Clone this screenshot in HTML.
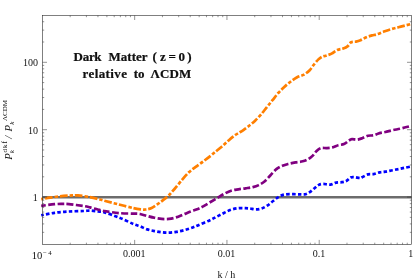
<!DOCTYPE html>
<html><head><meta charset="utf-8"><title>plot</title>
<style>
html,body{margin:0;padding:0;background:#fff;}
svg{display:block;will-change:transform;opacity:0.999}
text{font-family:"Liberation Serif",serif;fill:#111;}
.tl{font-size:10px}
.b{font-weight:bold;font-size:13px;letter-spacing:0.05px;fill:#000;stroke:#000;stroke-width:0.2px}
</style></head><body>
<svg width="415" height="279" viewBox="0 0 415 279">
<rect width="415" height="279" fill="#fff"/>
<g fill="none" stroke-linecap="butt" stroke-linejoin="round">
<path d="M42.5 197.2 L411.5 197.2" stroke="#6c6c6c" stroke-width="2.4"/>
<path d="M41.20 215.30 C43.42 214.88 49.88 213.43 54.50 212.80 C59.12 212.17 64.08 211.80 68.90 211.50 C73.72 211.20 79.88 211.15 83.40 211.00 C86.92 210.85 87.60 210.52 90.00 210.60 C92.40 210.68 95.38 211.20 97.80 211.50 C100.22 211.80 100.98 211.40 104.50 212.40 C108.02 213.40 114.08 215.57 118.90 217.50 C123.72 219.43 129.88 222.53 133.40 224.00 C136.92 225.47 137.70 225.40 140.00 226.30 C142.30 227.20 144.78 228.60 147.20 229.40 C149.62 230.20 152.08 230.62 154.50 231.10 C156.92 231.58 159.30 232.05 161.70 232.30 C164.10 232.55 166.50 232.67 168.90 232.60 C171.30 232.53 173.68 232.27 176.10 231.90 C178.52 231.53 180.98 231.00 183.40 230.40 C185.82 229.80 188.20 229.13 190.60 228.30 C193.00 227.47 194.65 226.72 197.80 225.40 C200.95 224.08 206.35 221.85 209.50 220.40 C212.65 218.95 214.30 217.93 216.70 216.70 C219.10 215.47 221.50 214.17 223.90 213.00 C226.30 211.83 228.68 210.50 231.10 209.70 C233.52 208.90 235.98 208.45 238.40 208.20 C240.82 207.95 243.67 208.15 245.60 208.20 C247.53 208.25 248.30 208.30 250.00 208.50 C251.70 208.70 253.87 209.40 255.80 209.40 C257.73 209.40 259.68 209.13 261.60 208.50 C263.52 207.87 265.38 206.85 267.30 205.60 C269.22 204.35 271.17 202.48 273.10 201.00 C275.03 199.52 276.97 197.78 278.90 196.70 C280.83 195.62 282.28 194.92 284.70 194.50 C287.12 194.08 290.75 194.22 293.40 194.20 C296.05 194.18 298.57 194.40 300.60 194.40 C302.63 194.40 304.02 194.62 305.60 194.20 C307.18 193.78 308.62 192.90 310.10 191.90 C311.58 190.90 313.05 189.37 314.50 188.20 C315.95 187.03 317.37 185.62 318.80 184.90 C320.23 184.18 321.17 183.95 323.10 183.90 C325.03 183.85 328.23 184.82 330.40 184.60 C332.57 184.38 334.18 183.00 336.10 182.60 C338.02 182.20 340.20 182.47 341.90 182.20 C343.60 181.93 344.85 181.78 346.30 181.00 C347.75 180.22 349.28 178.15 350.60 177.50 C351.92 176.85 352.63 177.02 354.20 177.10 C355.77 177.18 358.67 177.98 360.00 178.00 C361.33 178.02 360.87 177.80 362.20 177.20 C363.53 176.60 366.07 174.92 368.00 174.40 C369.93 173.88 371.87 174.43 373.80 174.10 C375.73 173.77 377.67 172.80 379.60 172.40 C381.53 172.00 383.23 172.07 385.40 171.70 C387.57 171.33 390.20 170.68 392.60 170.20 C395.00 169.72 397.63 169.23 399.80 168.80 C401.97 168.37 403.70 167.98 405.60 167.60 C407.50 167.22 410.27 166.68 411.20 166.50" stroke="#0000ff" stroke-width="2.7" stroke-dasharray="3.5 2.255" stroke-dashoffset="0.86"/>
<path d="M41.20 205.85 C43.42 205.57 51.03 204.52 54.50 204.20 C57.97 203.88 59.60 203.92 62.00 203.90 C64.40 203.88 65.33 203.75 68.90 204.10 C72.47 204.45 79.88 205.45 83.40 206.00 C86.92 206.55 87.60 206.82 90.00 207.40 C92.40 207.98 95.38 208.90 97.80 209.50 C100.22 210.10 100.98 210.40 104.50 211.00 C108.02 211.60 114.08 212.67 118.90 213.10 C123.72 213.53 129.88 213.45 133.40 213.60 C136.92 213.75 137.70 213.60 140.00 214.00 C142.30 214.40 144.78 215.37 147.20 216.00 C149.62 216.63 152.08 217.32 154.50 217.80 C156.92 218.28 159.30 218.72 161.70 218.90 C164.10 219.08 166.50 219.15 168.90 218.90 C171.30 218.65 173.68 218.13 176.10 217.40 C178.52 216.67 180.98 215.47 183.40 214.50 C185.82 213.53 188.20 212.53 190.60 211.60 C193.00 210.67 195.87 209.68 197.80 208.90 C199.73 208.12 200.25 207.95 202.20 206.90 C204.15 205.85 207.08 204.03 209.50 202.60 C211.92 201.17 214.30 199.73 216.70 198.30 C219.10 196.87 221.50 195.27 223.90 194.00 C226.30 192.73 228.68 191.48 231.10 190.70 C233.52 189.92 235.98 189.70 238.40 189.30 C240.82 188.90 243.18 188.67 245.60 188.30 C248.02 187.93 250.72 187.63 252.90 187.10 C255.08 186.57 256.77 186.03 258.70 185.10 C260.63 184.17 262.53 183.15 264.50 181.50 C266.47 179.85 268.47 177.30 270.50 175.20 C272.53 173.10 274.70 170.48 276.70 168.90 C278.70 167.32 280.57 166.53 282.50 165.70 C284.43 164.87 286.13 164.45 288.30 163.90 C290.47 163.35 293.10 162.83 295.50 162.40 C297.90 161.97 300.53 161.87 302.70 161.30 C304.87 160.73 306.82 159.95 308.50 159.00 C310.18 158.05 311.45 156.93 312.80 155.60 C314.15 154.27 315.25 152.25 316.60 151.00 C317.95 149.75 319.22 148.58 320.90 148.10 C322.58 147.62 324.77 148.22 326.70 148.10 C328.63 147.98 330.57 147.88 332.50 147.40 C334.43 146.92 336.38 145.75 338.30 145.20 C340.22 144.65 342.32 144.82 344.00 144.10 C345.68 143.38 347.07 141.72 348.40 140.90 C349.73 140.08 350.57 139.40 352.00 139.20 C353.43 139.00 355.30 139.87 357.00 139.70 C358.70 139.53 360.37 138.87 362.20 138.20 C364.03 137.53 366.07 136.18 368.00 135.70 C369.93 135.22 371.87 135.73 373.80 135.30 C375.73 134.87 377.67 133.65 379.60 133.10 C381.53 132.55 383.23 132.48 385.40 132.00 C387.57 131.52 390.20 130.73 392.60 130.20 C395.00 129.67 397.63 129.28 399.80 128.80 C401.97 128.32 403.67 127.78 405.60 127.30 C407.53 126.82 410.43 126.13 411.40 125.90" stroke="#800080" stroke-width="2.7" stroke-dasharray="6.8 2.44" stroke-dashoffset="2.14"/>
<path d="M41.20 199.15 C42.67 198.91 46.87 198.17 50.00 197.70 C53.13 197.22 56.67 196.65 60.00 196.30 C63.33 195.95 67.00 195.75 70.00 195.60 C73.00 195.45 74.67 195.13 78.00 195.40 C81.33 195.67 86.33 196.52 90.00 197.20 C93.67 197.88 97.58 198.90 100.00 199.50 C102.42 200.10 101.35 199.97 104.50 200.80 C107.65 201.63 114.08 203.28 118.90 204.50 C123.72 205.72 129.78 207.30 133.40 208.10 C137.02 208.90 138.53 209.07 140.60 209.30 C142.67 209.53 143.97 209.72 145.80 209.50 C147.63 209.28 149.68 208.85 151.60 208.00 C153.52 207.15 155.38 205.72 157.30 204.40 C159.22 203.08 161.17 201.63 163.10 200.10 C165.03 198.57 167.00 197.05 168.90 195.20 C170.80 193.35 172.37 191.48 174.50 189.00 C176.63 186.52 179.30 183.08 181.70 180.30 C184.10 177.52 186.50 174.58 188.90 172.30 C191.30 170.02 193.68 168.43 196.10 166.60 C198.52 164.77 200.98 163.10 203.40 161.30 C205.82 159.50 208.75 157.27 210.60 155.80 C212.45 154.33 212.65 154.02 214.50 152.50 C216.35 150.98 219.30 148.75 221.70 146.70 C224.10 144.65 226.50 142.23 228.90 140.20 C231.30 138.17 233.68 136.18 236.10 134.50 C238.52 132.82 240.98 131.75 243.40 130.10 C245.82 128.45 248.65 126.17 250.60 124.60 C252.55 123.03 253.38 122.37 255.10 120.70 C256.82 119.03 258.97 116.82 260.90 114.60 C262.83 112.38 264.77 109.80 266.70 107.40 C268.63 105.00 270.57 102.60 272.50 100.20 C274.43 97.80 276.38 95.17 278.30 93.00 C280.22 90.83 282.13 88.95 284.00 87.20 C285.87 85.45 287.38 84.12 289.50 82.50 C291.62 80.88 294.30 78.82 296.70 77.50 C299.10 76.18 301.73 75.82 303.90 74.60 C306.07 73.38 308.02 71.88 309.70 70.20 C311.38 68.52 312.55 66.30 314.00 64.50 C315.45 62.70 317.07 60.68 318.40 59.40 C319.73 58.12 320.77 57.42 322.00 56.80 C323.23 56.18 324.20 56.23 325.80 55.70 C327.40 55.17 329.68 54.55 331.60 53.60 C333.52 52.65 335.38 50.85 337.30 50.00 C339.22 49.15 341.40 49.10 343.10 48.50 C344.80 47.90 346.17 47.43 347.50 46.40 C348.83 45.37 349.67 43.10 351.10 42.30 C352.53 41.50 354.53 41.95 356.10 41.60 C357.67 41.25 358.80 40.92 360.50 40.20 C362.20 39.48 364.38 38.10 366.30 37.30 C368.22 36.50 370.28 35.88 372.00 35.40 C373.72 34.92 374.62 35.03 376.60 34.40 C378.58 33.77 381.48 32.47 383.90 31.60 C386.32 30.73 388.68 29.92 391.10 29.20 C393.52 28.48 395.98 27.93 398.40 27.30 C400.82 26.67 403.58 25.93 405.60 25.40 C407.62 24.87 409.68 24.32 410.50 24.10" stroke="#ff7f00" stroke-width="2.7" stroke-dasharray="7.6 2.0 3.5 1.9" stroke-dashoffset="11.0"/>
</g>
<rect x="42.5" y="15.5" width="369.0" height="228.9" fill="none" stroke="#2a2a2a" stroke-width="0.6"/>
<path d="M70.18 244.40 L70.18 242.70M70.18 15.50 L70.18 17.20M86.42 244.40 L86.42 242.70M86.42 15.50 L86.42 17.20M97.95 244.40 L97.95 242.70M97.95 15.50 L97.95 17.20M106.89 244.40 L106.89 242.70M106.89 15.50 L106.89 17.20M114.20 244.40 L114.20 242.70M114.20 15.50 L114.20 17.20M120.38 244.40 L120.38 242.70M120.38 15.50 L120.38 17.20M125.73 244.40 L125.73 242.70M125.73 15.50 L125.73 17.20M130.45 244.40 L130.45 242.70M130.45 15.50 L130.45 17.20M134.67 244.40 L134.67 239.90M134.67 15.50 L134.67 20.00M162.45 244.40 L162.45 242.70M162.45 15.50 L162.45 17.20M178.69 244.40 L178.69 242.70M178.69 15.50 L178.69 17.20M190.22 244.40 L190.22 242.70M190.22 15.50 L190.22 17.20M199.16 244.40 L199.16 242.70M199.16 15.50 L199.16 17.20M206.47 244.40 L206.47 242.70M206.47 15.50 L206.47 17.20M212.65 244.40 L212.65 242.70M212.65 15.50 L212.65 17.20M218.00 244.40 L218.00 242.70M218.00 15.50 L218.00 17.20M222.72 244.40 L222.72 242.70M222.72 15.50 L222.72 17.20M226.94 244.40 L226.94 239.90M226.94 15.50 L226.94 20.00M254.72 244.40 L254.72 242.70M254.72 15.50 L254.72 17.20M270.96 244.40 L270.96 242.70M270.96 15.50 L270.96 17.20M282.49 244.40 L282.49 242.70M282.49 15.50 L282.49 17.20M291.43 244.40 L291.43 242.70M291.43 15.50 L291.43 17.20M298.74 244.40 L298.74 242.70M298.74 15.50 L298.74 17.20M304.92 244.40 L304.92 242.70M304.92 15.50 L304.92 17.20M310.27 244.40 L310.27 242.70M310.27 15.50 L310.27 17.20M314.99 244.40 L314.99 242.70M314.99 15.50 L314.99 17.20M319.21 244.40 L319.21 239.90M319.21 15.50 L319.21 20.00M346.99 244.40 L346.99 242.70M346.99 15.50 L346.99 17.20M363.23 244.40 L363.23 242.70M363.23 15.50 L363.23 17.20M374.76 244.40 L374.76 242.70M374.76 15.50 L374.76 17.20M383.70 244.40 L383.70 242.70M383.70 15.50 L383.70 17.20M391.01 244.40 L391.01 242.70M391.01 15.50 L391.01 17.20M397.19 244.40 L397.19 242.70M397.19 15.50 L397.19 17.20M402.54 244.40 L402.54 242.70M402.54 15.50 L402.54 17.20M407.26 244.40 L407.26 242.70M407.26 15.50 L407.26 17.20M42.50 232.34 L44.20 232.34M411.50 232.34 L409.80 232.34M42.50 223.92 L44.20 223.92M411.50 223.92 L409.80 223.92M42.50 217.39 L44.20 217.39M411.50 217.39 L409.80 217.39M42.50 212.05 L44.20 212.05M411.50 212.05 L409.80 212.05M42.50 207.54 L44.20 207.54M411.50 207.54 L409.80 207.54M42.50 203.63 L44.20 203.63M411.50 203.63 L409.80 203.63M42.50 200.18 L44.20 200.18M411.50 200.18 L409.80 200.18M42.50 197.10 L47.00 197.10M411.50 197.10 L407.00 197.10M42.50 176.81 L44.20 176.81M411.50 176.81 L409.80 176.81M42.50 164.94 L44.20 164.94M411.50 164.94 L409.80 164.94M42.50 156.52 L44.20 156.52M411.50 156.52 L409.80 156.52M42.50 149.99 L44.20 149.99M411.50 149.99 L409.80 149.99M42.50 144.65 L44.20 144.65M411.50 144.65 L409.80 144.65M42.50 140.14 L44.20 140.14M411.50 140.14 L409.80 140.14M42.50 136.23 L44.20 136.23M411.50 136.23 L409.80 136.23M42.50 132.78 L44.20 132.78M411.50 132.78 L409.80 132.78M42.50 129.70 L47.00 129.70M411.50 129.70 L407.00 129.70M42.50 109.41 L44.20 109.41M411.50 109.41 L409.80 109.41M42.50 97.54 L44.20 97.54M411.50 97.54 L409.80 97.54M42.50 89.12 L44.20 89.12M411.50 89.12 L409.80 89.12M42.50 82.59 L44.20 82.59M411.50 82.59 L409.80 82.59M42.50 77.25 L44.20 77.25M411.50 77.25 L409.80 77.25M42.50 72.74 L44.20 72.74M411.50 72.74 L409.80 72.74M42.50 68.83 L44.20 68.83M411.50 68.83 L409.80 68.83M42.50 65.38 L44.20 65.38M411.50 65.38 L409.80 65.38M42.50 62.30 L47.00 62.30M411.50 62.30 L407.00 62.30M42.50 42.01 L44.20 42.01M411.50 42.01 L409.80 42.01M42.50 30.14 L44.20 30.14M411.50 30.14 L409.80 30.14M42.50 21.72 L44.20 21.72M411.50 21.72 L409.80 21.72" stroke="#2a2a2a" stroke-width="0.5" fill="none"/>
<g class="tl">
<text x="37.9" y="66.3" text-anchor="end">100</text>
<text x="37.9" y="133.9" text-anchor="end">10</text>
<text x="37.8" y="200.7" text-anchor="end">1</text>
<text x="31.7" y="259.4" font-size="10.6px">10</text>
<text x="43.0" y="255.0" font-size="6.9px">−</text>
<text x="48.2" y="254.9" font-size="6.9px">4</text>
<text x="134.2" y="256.8" text-anchor="middle">0.001</text>
<text x="226.6" y="256.8" text-anchor="middle">0.01</text>
<text x="319.0" y="256.8" text-anchor="middle">0.1</text>
<text x="410.8" y="256.8" text-anchor="middle">1</text>
<text x="226.4" y="277.6" text-anchor="middle">k / h</text>
</g>
<g class="b">
<text x="73.6" y="60.8" letter-spacing="-0.3px">Dark</text>
<text x="108.4" y="60.8">Matter</text>
<text x="152.6" y="60.8">(</text>
<text x="160" y="60.8">z</text>
<text x="168.6" y="60.8">=</text>
<text x="178.6" y="60.8">0</text>
<text x="187.3" y="60.8">)</text>
<text x="82.6" y="78.4" letter-spacing="0.4px">relative</text>
<text x="133.7" y="78.4">to</text>
<text x="150.6" y="78.4" letter-spacing="0.1px">ΛCDM</text>
</g>
<g transform="translate(11.7 159.7) rotate(-90)" font-size="10.8px">
<text x="0" y="0" font-style="italic">P</text>
<text x="6.5" y="2.0" font-size="7.1px" font-style="italic">k</text>
<text x="7.3" y="-4.7" font-size="7px">d</text>
<text x="11.6" y="-4.7" font-size="7px">k</text>
<text x="16.1" y="-4.7" font-size="7.6px">f</text>
<text x="21" y="0" font-style="italic">/</text>
<text x="28.3" y="0" font-style="italic">P</text>
<text x="35.0" y="2.0" font-size="7.1px" font-style="italic">k</text>
<text x="38.6" y="-4.7" font-size="7px">ΛCDM</text>
</g>
</svg>
</body></html>
